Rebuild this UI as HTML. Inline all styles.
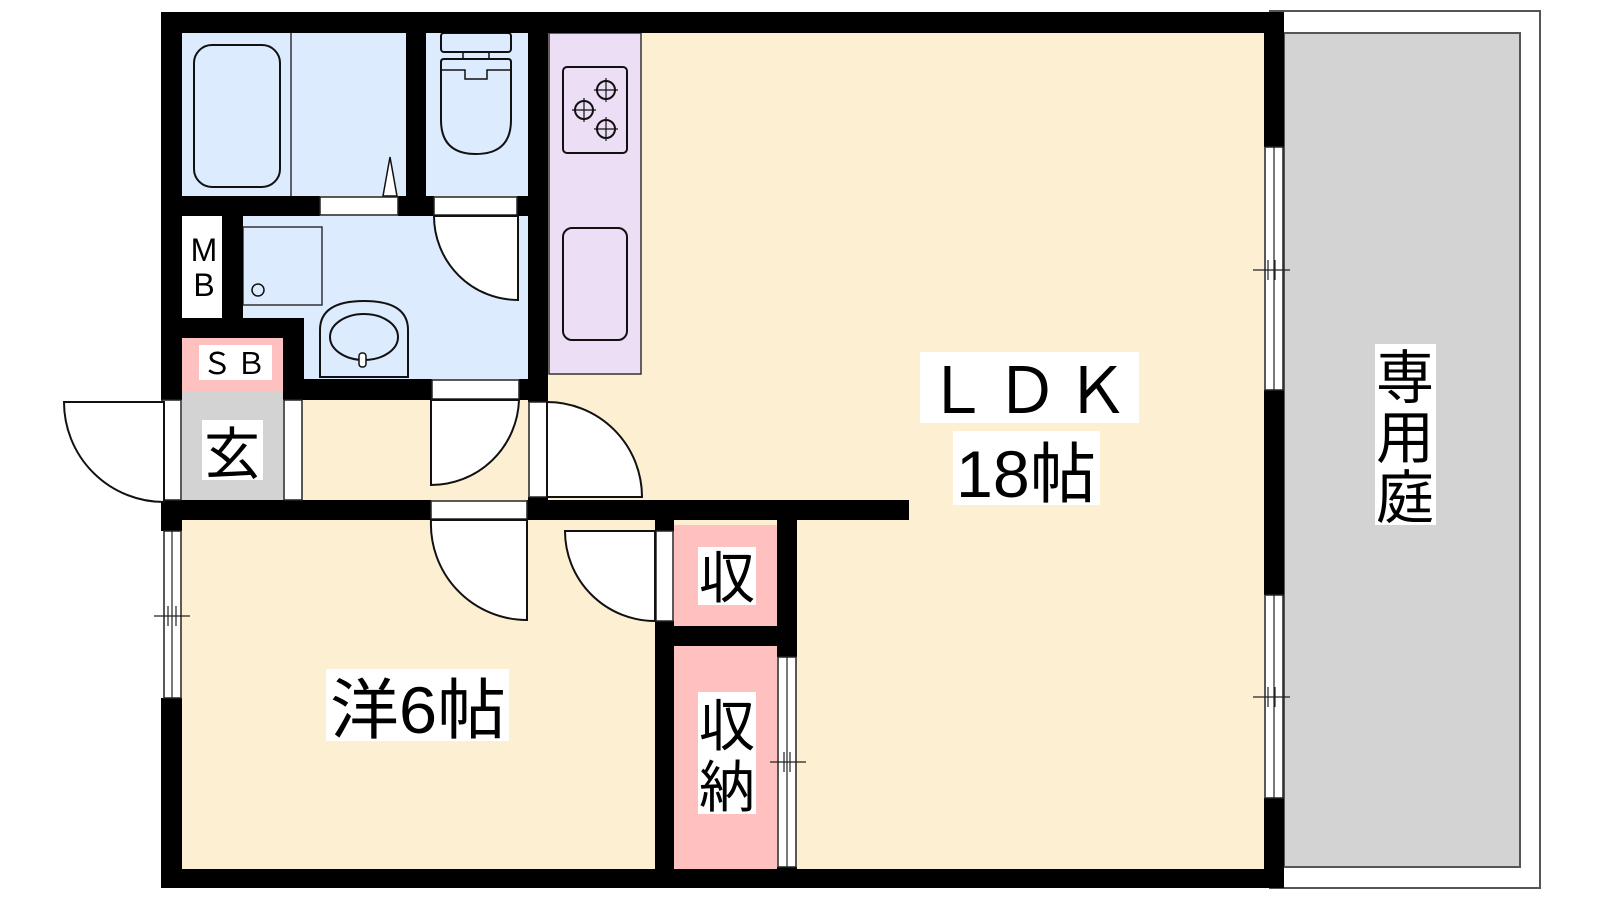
<!DOCTYPE html>
<html><head><meta charset="utf-8"><style>
html,body{margin:0;padding:0;background:#fff;}
svg{display:block;}
text{font-family:"Liberation Sans","Noto Sans CJK JP",sans-serif;fill:#000;}
</style></head><body>
<svg width="1600" height="900" viewBox="0 0 1600 900" xmlns="http://www.w3.org/2000/svg">
<rect x="1270" y="11" width="270" height="877" fill="#fff" stroke="#555" stroke-width="2"/>
<rect x="1284" y="33" width="236" height="834" fill="#d3d3d3" stroke="#555" stroke-width="2"/>
<rect x="182" y="33" width="1082" height="836" fill="#fdf0d2"/>
<rect x="182" y="33" width="224" height="163" fill="#dcebfe"/>
<rect x="426" y="33" width="102" height="163" fill="#dcebfe"/>
<rect x="243" y="216" width="285" height="163" fill="#dcebfe"/>
<rect x="549" y="33" width="92" height="341" fill="#ecdff5" stroke="#333" stroke-width="1.5"/>
<rect x="182" y="216" width="40" height="102" fill="#fff"/>
<rect x="182" y="338" width="101" height="53" fill="#ffc0c0"/>
<rect x="182" y="391" width="101" height="109" fill="#d3d3d3"/>
<rect x="674" y="525" width="103" height="101" fill="#ffc0c0"/>
<rect x="674" y="646" width="103" height="226" fill="#ffc0c0"/>
<line x1="291" y1="33" x2="291" y2="196" stroke="#333" stroke-width="1.5"/>
<rect x="194" y="45" width="86" height="142" rx="18" fill="none" stroke="#111" stroke-width="2"/>
<polygon points="383,196 390,157 397,196" fill="#fff" stroke="#111" stroke-width="1.5"/>
<rect x="441" y="33" width="70" height="19" rx="3" fill="none" stroke="#111" stroke-width="2"/>
<rect x="463" y="52" width="26" height="7" fill="none" stroke="#111" stroke-width="1.5"/>
<path d="M441,62 Q441,59 444,59 L508,59 Q511,59 511,62 L511,120 Q511,154 476,154 Q441,154 441,120 Z" fill="none" stroke="#111" stroke-width="2"/>
<path d="M441,70 L465,70 L465,79 L487,79 L487,70 L511,70" fill="none" stroke="#111" stroke-width="1.5"/>
<rect x="563" y="67" width="64" height="86" rx="4" fill="none" stroke="#111" stroke-width="2"/>
<g fill="none" stroke="#111" stroke-width="2"><circle cx="606" cy="90" r="9"/><circle cx="584" cy="110" r="9"/><circle cx="606" cy="129" r="9"/></g>
<g stroke="#111" stroke-width="1.2"><path d="M594,90h24M606,78v24M572,110h24M584,98v24M594,129h24M606,117v24"/></g>
<rect x="563" y="228" width="64" height="112" rx="9" fill="none" stroke="#111" stroke-width="2"/>
<rect x="243" y="227" width="79" height="78" fill="none" stroke="#333" stroke-width="1.5"/>
<circle cx="258" cy="290" r="6" fill="none" stroke="#111" stroke-width="1.5"/>
<path d="M320,377 L320,330 Q320,301 364,301 Q408,301 408,330 L408,377 Z" fill="none" stroke="#111" stroke-width="2"/>
<ellipse cx="364" cy="337" rx="34" ry="23" fill="none" stroke="#111" stroke-width="2"/>
<rect x="359" y="353" width="7" height="14" rx="3" fill="#fff" stroke="#111" stroke-width="1.5"/>
<g fill="#000">
<rect x="161" y="12" width="1123" height="21"/>
<rect x="161" y="12" width="21" height="388"/>
<rect x="161" y="500" width="21" height="31"/>
<rect x="161" y="698" width="21" height="190"/>
<rect x="161" y="869" width="1123" height="19"/>
<rect x="1264" y="12" width="20" height="135"/>
<rect x="1264" y="390" width="20" height="205"/>
<rect x="1264" y="798" width="20" height="90"/>
<rect x="406" y="33" width="20" height="183"/>
<rect x="528" y="33" width="20" height="369"/>
<rect x="528" y="497" width="20" height="23"/>
<rect x="182" y="196" width="138" height="20"/>
<rect x="398" y="196" width="36" height="20"/>
<rect x="517" y="196" width="11" height="20"/>
<rect x="222" y="216" width="21" height="102"/>
<rect x="182" y="318" width="122" height="20"/>
<rect x="283" y="318" width="21" height="82"/>
<rect x="283" y="379" width="149" height="21"/>
<rect x="519" y="379" width="29" height="21"/>
<rect x="161" y="500" width="270" height="20"/>
<rect x="527" y="500" width="382" height="20"/>
<rect x="655" y="520" width="19" height="11"/>
<rect x="655" y="621" width="19" height="248"/>
<rect x="777" y="520" width="20" height="137"/>
<rect x="674" y="626" width="103" height="20"/>
<rect x="777" y="867" width="20" height="5"/>
</g>
<g fill="#fff" stroke="#222" stroke-width="1.5">
<rect x="320" y="197" width="78" height="18"/>
<rect x="434" y="197" width="83" height="18"/>
<rect x="432" y="380" width="87" height="19"/>
<rect x="431" y="501" width="96" height="18"/>
<rect x="162" y="400" width="19" height="100"/>
<rect x="284" y="400" width="18" height="100"/>
<rect x="529" y="402" width="18" height="95"/>
<rect x="656" y="531" width="17" height="90"/>
<rect x="164" y="531" width="17" height="167"/>
<rect x="778" y="657" width="18" height="210"/>
<rect x="1265" y="147" width="18" height="243"/>
<rect x="1265" y="595" width="18" height="203"/>
</g>
<g stroke="#222" stroke-width="1.2">
<line x1="172" y1="531" x2="172" y2="698"/><line x1="787" y1="657" x2="787" y2="867"/>
<line x1="1274" y1="147" x2="1274" y2="390"/><line x1="1274" y1="595" x2="1274" y2="798"/>
<line x1="154" y1="616" x2="190" y2="616"/><line x1="168" y1="606" x2="168" y2="626"/><line x1="176" y1="606" x2="176" y2="626"/>
<line x1="770" y1="762" x2="806" y2="762"/><line x1="784" y1="752" x2="784" y2="772"/><line x1="790" y1="752" x2="790" y2="772"/>
<line x1="1253" y1="270" x2="1290" y2="270"/><line x1="1268" y1="260" x2="1268" y2="280"/><line x1="1275" y1="260" x2="1275" y2="280"/>
<line x1="1253" y1="697" x2="1290" y2="697"/><line x1="1268" y1="687" x2="1268" y2="707"/><line x1="1275" y1="687" x2="1275" y2="707"/>
</g>
<g fill="#fff" stroke="#111" stroke-width="2">
<path d="M518,216 L518,300 A84,84 0 0 1 434,216 Z"/>
<path d="M431,400 L431,485 A88,88 0 0 0 519,400 Z"/>
<path d="M547,402 L547,497 L642,497 A95,95 0 0 0 547,402 Z"/>
<path d="M164,402 L64,402 A100,100 0 0 0 164,502 Z"/>
<path d="M527,520 L527,620 A96,96 0 0 1 431,520 Z"/>
<path d="M655,531 L565,531 A90,90 0 0 0 655,621 Z"/>
</g>
<g fill="#fff">
<rect x="920" y="352" width="219" height="71"/>
<rect x="953" y="431" width="147" height="74"/>
<rect x="326" y="669" width="183" height="72"/>
<rect x="698" y="547" width="58" height="58"/>
<rect x="698" y="692" width="58" height="122"/>
<rect x="202" y="420" width="61" height="60"/>
<rect x="199" y="345" width="73" height="35"/>
<rect x="1375" y="344" width="61" height="181"/>
</g>
<text x="1030" y="413" font-size="64" text-anchor="middle" letter-spacing="6">ＬＤＫ</text>
<text x="1026" y="497" font-size="66" text-anchor="middle" textLength="140" lengthAdjust="spacingAndGlyphs">18帖</text>
<text x="418" y="733" font-size="66" text-anchor="middle" textLength="176" lengthAdjust="spacingAndGlyphs">洋6帖</text>
<text x="727" y="598" font-size="56" text-anchor="middle">収</text>
<text x="727" y="746" font-size="56" text-anchor="middle">収</text>
<text x="727" y="807" font-size="56" text-anchor="middle">納</text>
<text x="232" y="474" font-size="56" text-anchor="middle">玄</text>
<text x="236" y="374" font-size="30" text-anchor="middle" letter-spacing="4">ＳＢ</text>
<text x="204" y="261" font-size="32" text-anchor="middle">M</text>
<text x="204" y="296" font-size="32" text-anchor="middle">B</text>
<text x="1405" y="398" font-size="58" text-anchor="middle">専</text>
<text x="1405" y="458" font-size="58" text-anchor="middle">用</text>
<text x="1405" y="518" font-size="58" text-anchor="middle">庭</text>
</svg>
</body></html>
